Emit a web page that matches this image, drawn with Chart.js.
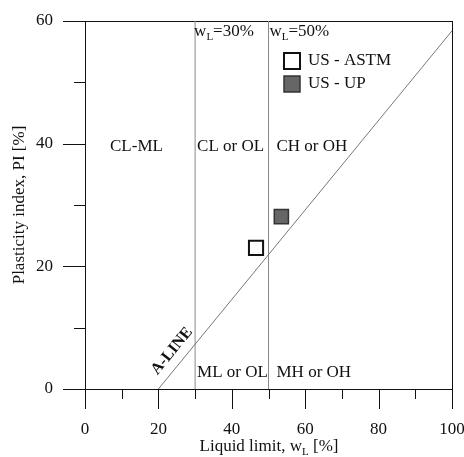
<!DOCTYPE html>
<html>
<head>
<meta charset="utf-8">
<script src="https://cdn.jsdelivr.net/npm/chart.js@4/dist/chart.umd.min.js"></script>
<style>
    html, body { margin: 0; padding: 0; background: #fff; }
    #wrap { width: 464px; height: 457px; }
</style>
</head>
<body>
<div id="wrap"><canvas id="plasticityChart"></canvas></div>
<script>
// Data
const xTicks = [0, 10, 20, 30, 40, 50, 60, 70, 80, 90, 100];
const yTicks = [0, 10, 20, 30, 40, 50, 60];
const aLineLL = [20, 100];
const aLinePI = [0, 58.4];
const boundaryLL = [30, 50];
const boundaryPI = [0, 60];
const astmLL = [46.6];
const astmPI = [23.0];
const upLL = [53.5];
const upPI = [28.1];

const FONT = "'Liberation Serif', 'DejaVu Serif', serif";

function toPoints(xs, ys) {
    return xs.map((x, i) => ({ x: x, y: ys[i] }));
}

// draw text with a subscript part, parts: [[text, isSub], ...]
function drawParts(ctx, parts, x, y, size, align) {
    const subSize = Math.round(size * 0.62);
    let total = 0;
    parts.forEach(p => {
        ctx.font = (p[1] ? subSize : size) + 'px ' + FONT;
        total += ctx.measureText(p[0]).width;
    });
    let cx = align === 'center' ? x - total / 2 : x;
    ctx.textAlign = 'left';
    ctx.textBaseline = 'middle';
    parts.forEach(p => {
        ctx.font = (p[1] ? subSize : size) + 'px ' + FONT;
        ctx.fillText(p[0], cx, p[1] ? y + size * 0.28 : y);
        cx += ctx.measureText(p[0]).width;
    });
}

const framePlugin = {
    id: 'frame',
    beforeDatasetsDraw(chart) {
        const ctx = chart.ctx;
        const xs = chart.scales.x, ys = chart.scales.y;
        const a = chart.chartArea;
        ctx.save();
        ctx.strokeStyle = '#111';
        ctx.lineWidth = 1;
        ctx.strokeRect(a.left + 0.5, a.top + 0.5, a.right - a.left, a.bottom - a.top);
        ctx.beginPath();
        xTicks.forEach(v => {
            const px = Math.round(xs.getPixelForValue(v)) + 0.5;
            const len = v % 20 === 0 ? 20 : 10;
            ctx.moveTo(px, a.bottom);
            ctx.lineTo(px, a.bottom + len);
        });
        yTicks.forEach(v => {
            const py = Math.round(ys.getPixelForValue(v)) + 0.5;
            const len = v % 20 === 0 ? 22 : 11;
            ctx.moveTo(a.left, py);
            ctx.lineTo(a.left - len, py);
        });
        ctx.stroke();

        // tick labels
        ctx.fillStyle = '#111';
        ctx.font = '17px ' + FONT;
        ctx.textAlign = 'center';
        ctx.textBaseline = 'middle';
        xTicks.filter(v => v % 20 === 0).forEach(v => {
            ctx.fillText(String(v), xs.getPixelForValue(v), a.bottom + 41);
        });
        ctx.textAlign = 'right';
        yTicks.filter(v => v % 20 === 0).forEach(v => {
            ctx.fillText(String(v), a.left - 32, ys.getPixelForValue(v));
        });
        ctx.restore();
    },
    afterDraw(chart) {
        const ctx = chart.ctx;
        const xs = chart.scales.x, ys = chart.scales.y;
        const a = chart.chartArea;
        ctx.save();
        ctx.fillStyle = '#111';

        // axis titles
        drawParts(ctx, [['Liquid limit, w', false], ['L', true], [' [%]', false]],
            269, 447, 17, 'center');
        ctx.save();
        ctx.translate(20, 205);
        ctx.rotate(-Math.PI / 2);
        ctx.font = '17px ' + FONT;
        ctx.textAlign = 'center';
        ctx.textBaseline = 'middle';
        ctx.fillText('Plasticity index, PI [%]', 0, 0);
        ctx.restore();

        // zone labels
        ctx.font = '17px ' + FONT;
        ctx.textAlign = 'left';
        ctx.textBaseline = 'middle';
        ctx.fillText('CL-ML', 110, 147);
        ctx.fillText('CL or OL', xs.getPixelForValue(30) + 2, 147);
        ctx.fillText('CH or OH', xs.getPixelForValue(50) + 8, 147);
        ctx.fillText('ML or OL', xs.getPixelForValue(30) + 2, 373);
        ctx.fillText('MH or OH', xs.getPixelForValue(50) + 8, 373);

        drawParts(ctx, [['w', false], ['L', true], ['=30%', false]], xs.getPixelForValue(30) - 1, 32, 17, 'left');
        drawParts(ctx, [['w', false], ['L', true], ['=50%', false]], xs.getPixelForValue(50) + 1, 32, 17, 'left');

        // A-LINE label
        ctx.save();
        ctx.translate(172, 351);
        ctx.rotate(-51 * Math.PI / 180);
        ctx.font = 'bold 16px ' + FONT;
        ctx.textAlign = 'center';
        ctx.fillText('A-LINE', 0, 0);
        ctx.restore();

        // legend
        const legend = [
            ['US - ASTM', '#ffffff', '#111', 2],
            ['US - UP', '#666666', '#333', 1.5]
        ];
        legend.forEach((item, i) => {
            const cy = 61 + i * 23;
            ctx.fillStyle = item[1];
            ctx.strokeStyle = item[2];
            ctx.lineWidth = item[3];
            ctx.fillRect(284, cy - 8, 16, 16);
            ctx.strokeRect(284, cy - 8, 16, 16);
            ctx.fillStyle = '#111';
            ctx.font = '17px ' + FONT;
            ctx.textAlign = 'left';
            ctx.textBaseline = 'middle';
            ctx.fillText(item[0], 308, cy);
        });
        ctx.restore();
    }
};

const ctx = document.getElementById('plasticityChart').getContext('2d');
const plasticityChart = new Chart(ctx, {
    type: 'scatter',
    data: {
        datasets: [
            {
                label: 'US - ASTM',
                data: toPoints(astmLL, astmPI),
                pointStyle: 'rect',
                pointRadius: 10,
                pointBackgroundColor: '#ffffff',
                pointBorderColor: '#111',
                pointBorderWidth: 2,
                order: 0
            },
            {
                label: 'US - UP',
                data: toPoints(upLL, upPI),
                pointStyle: 'rect',
                pointRadius: 10,
                pointBackgroundColor: '#666666',
                pointBorderColor: '#333',
                pointBorderWidth: 1.5,
                order: 0
            },
            {
                label: 'A-line',
                type: 'line',
                data: toPoints(aLineLL, aLinePI),
                borderColor: '#777',
                borderWidth: 1,
                pointRadius: 0,
                order: 1
            },
            {
                label: 'wL=30%',
                type: 'line',
                data: toPoints([boundaryLL[0], boundaryLL[0]], boundaryPI),
                borderColor: '#888',
                borderWidth: 1,
                pointRadius: 0,
                order: 1
            },
            {
                label: 'wL=50%',
                type: 'line',
                data: toPoints([boundaryLL[1], boundaryLL[1]], boundaryPI),
                borderColor: '#888',
                borderWidth: 1,
                pointRadius: 0,
                order: 1
            }
        ]
    },
    options: {
        responsive: true,
        maintainAspectRatio: false,
        animation: false,
        layout: {
            padding: { left: 85, right: 12, top: 21, bottom: 68 }
        },
        scales: {
            x: { type: 'linear', min: 0, max: 100, display: false },
            y: { type: 'linear', min: 0, max: 60, display: false }
        },
        plugins: {
            legend: { display: false },
            tooltip: { enabled: false }
        }
    },
    plugins: [framePlugin]
});
</script>
</body>
</html>
